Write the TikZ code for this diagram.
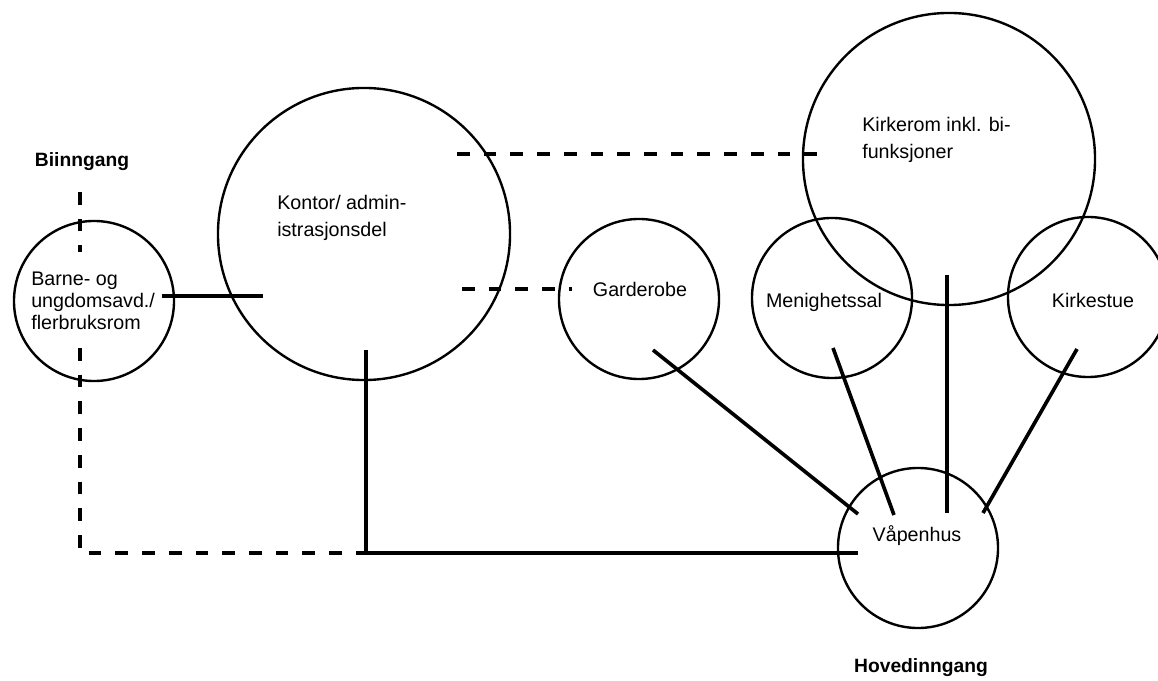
\documentclass[tikz,border=0pt]{standalone}
\usepackage{fontspec}
\setmainfont{Liberation Sans}
\usetikzlibrary{positioning}

\begin{document}
\begin{tikzpicture}
 [ x=0.025cm, y=-0.025cm
 , room/.style={circle, draw, line width=1.7pt, inner sep=0pt, minimum size=4cm}
 , big room/.style={room, minimum size=7.3cm}
 , roomtext/.style={inner sep=0pt, align=left, font=\fontsize{14}{17.5}\selectfont}
 , entrance/.style={inner sep=0pt, font=\fontsize{13.7}{16}\selectfont\bfseries}
 , link/.style={line width=2.6pt}
 , weak link/.style={line width=2.6pt, dash pattern=on 9pt off 10pt}
 ]
  \useasboundingbox (0,0) rectangle (1158,681);

  % rooms
  \node [room] (barne) at (94,301) {};
  \node [big room] (kontor) at (364,234) {};
  \node [room] (garderobe) at (639,299) {};
  \node [big room] (kirkerom) at (949,159) {};
  \node [room] (menighetssal) at (832,298) {};
  \node [room] (kirkestue) at (1088,297) {};
  \node [room] (vapenhus) at (918,548) {};

  % texts
  \node [roomtext, anchor=west] (barnetxt) at (31,301)
    {Barne- og\\[-2pt]ungdomsavd./\\[-2pt]flerbruksrom};
  \node [roomtext, anchor=west] (kontortxt) at (277,218)
    {Kontor/ admin-\\[2pt]istrasjonsdel};
  \node [roomtext] (garderobetxt) at (640,289) {Garderobe};
  \node [roomtext, anchor=west] (kirkeromtxt) at (862,140)
    {Kirkerom inkl. bi-\\[2pt]funksjoner};
  \node [roomtext] (menighetssaltxt) at (824,302) {Menighetssal};
  \node [roomtext] (kirkestuetxt) at (1093,300) {Kirkestue};
  \node [roomtext] (vapenhustxt) at (917,536) {Våpenhus};
  \node [entrance] (biinngang) at (82,162) {Biinngang};
  \node [entrance] (hovedinngang) at (921,668) {Hovedinngang};

  % connector ends
  \coordinate (b1) at (80,192);
  \coordinate (b2) at (80,252);
  \coordinate (b3) at (80,348);
  \coordinate (corner) at (80,553);
  \coordinate (joint) at (366,553);
  \coordinate (k1) at (366,350);
  \coordinate (k2) at (457,154);
  \coordinate (k3) at (462,289);
  \coordinate (bk1) at (162,296);
  \coordinate (bk2) at (263,296);
  \coordinate (kr1) at (828,154);
  \coordinate (g1) at (572,289);
  \coordinate (g2) at (653,350);
  \coordinate (m1) at (833,348);
  \coordinate (kr2) at (947,275);
  \coordinate (ks1) at (1077,349);
  \coordinate (v0) at (858,553);
  \coordinate (v1) at (858,514);
  \coordinate (v2) at (894,515);
  \coordinate (v3) at (947,513);
  \coordinate (v4) at (983,513);

  % connectors
  \draw [link] (bk1) -- (bk2);
  \draw [weak link] (b1) -- (b2);
  \draw [weak link] (b3) -- (corner) -- (joint);
  \draw [link] (k1) -- (joint) -- (v0);
  \draw [weak link] (k2) -- (kr1);
  \draw [weak link] (k3) -- (g1);
  \draw [link] (g2) -- (v1);
  \draw [link] (m1) -- (v2);
  \draw [link] (kr2) -- (v3);
  \draw [link] (ks1) -- (v4);
\end{tikzpicture}
\end{document}
